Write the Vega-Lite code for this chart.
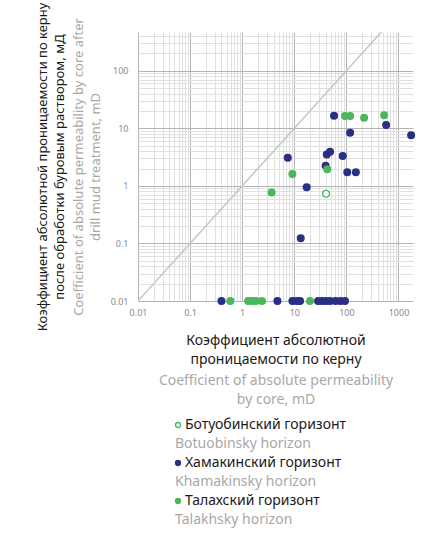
{
  "$schema": "https://vega.github.io/schema/vega-lite/v6.json",
  "width": 275,
  "height": 269,
  "autosize": {"type": "none"},
  "padding": {"left": 138, "top": 32, "right": 15, "bottom": 233},
  "background": "white",
  "config": {"font": "Noto Sans", "view": {"stroke": null}},
  "resolve": {"axis": {"x": "independent", "y": "independent"}},
  "layer": [
    {
      "data": {"values": [{"k_core": 0.01, "k_after": 0.01}, {"k_core": 470, "k_after": 470}]},
      "mark": {"type": "line", "color": "#bccdbc", "strokeWidth": 1.5, "clip": true},
      "encoding": {
        "x": {
          "field": "k_core", "type": "quantitative",
          "scale": {"type": "log", "domain": [0.01, 1900], "nice": false},
          "axis": {
            "orient": "bottom",
            "values": [0.01,0.02,0.03,0.04,0.05,0.06,0.07,0.08,0.09,0.1,0.2,0.3,0.4,0.5,0.6,0.7,0.8,0.9,1,2,3,4,5,6,7,8,9,10,20,30,40,50,60,70,80,90,100,200,300,400,500,600,700,800,900,1000],
            "labelExpr": "indexof([0.01,0.1,1,10,100,1000], datum.value) >= 0 ? '' + datum.value : ''",
            "grid": true,
            "gridColor": {"condition": {"test": "indexof([0.01,0.1,1,10,100,1000], datum.value) >= 0", "value": "#b4b4b4"}, "value": "#e0e0e0"},
            "ticks": false, "domain": false,
            "labelFontSize": 9, "labelColor": "#8a8a8a", "labelPadding": 7,
            "labelOverlap": false, "labelFlush": false,
            "title": ["Коэффициент абсолютной", "проницаемости по керну"],
            "titleColor": "#1a1a1a", "titleFontSize": 14, "titleFontWeight": "normal", "titleLineHeight": 19,
            "titlePadding": 16
          }
        },
        "y": {
          "field": "k_after", "type": "quantitative",
          "scale": {"type": "log", "domain": [0.01, 470], "nice": false},
          "axis": {
            "orient": "left",
            "values": [0.01,0.02,0.03,0.04,0.05,0.06,0.07,0.08,0.09,0.1,0.2,0.3,0.4,0.5,0.6,0.7,0.8,0.9,1,2,3,4,5,6,7,8,9,10,20,30,40,50,60,70,80,90,100,200,300,400],
            "grid": true,
            "gridColor": {"condition": {"test": "indexof([0.01,0.1,1,10,100,1000], datum.value) >= 0", "value": "#b4b4b4"}, "value": "#e0e0e0"},
            "title": ["Коэффициент абсолютной проницаемости по керну", "после обработки буровым раствором, мД"],
            "titleColor": "#1a1a1a", "titleFontSize": 13, "titleFontWeight": "normal", "titleLineHeight": 17,
            "titlePadding": 72,
            "labels": false, "ticks": false, "domain": false
          }
        }
      }
    },
    {
      "data": {"values": [
        {"k_core": 58, "k_after": 16.5, "horizon": "Хамакинский горизонт"},
        {"k_core": 580, "k_after": 11.4, "horizon": "Хамакинский горизонт"},
        {"k_core": 118, "k_after": 8.4, "horizon": "Хамакинский горизонт"},
        {"k_core": 1750, "k_after": 7.6, "horizon": "Хамакинский горизонт"},
        {"k_core": 7.5, "k_after": 3.08, "horizon": "Хамакинский горизонт"},
        {"k_core": 42, "k_after": 3.52, "horizon": "Хамакинский горизонт"},
        {"k_core": 48.6, "k_after": 3.9, "horizon": "Хамакинский горизонт"},
        {"k_core": 85, "k_after": 3.3, "horizon": "Хамакинский горизонт"},
        {"k_core": 40, "k_after": 2.23, "horizon": "Хамакинский горизонт"},
        {"k_core": 104, "k_after": 1.72, "horizon": "Хамакинский горизонт"},
        {"k_core": 152, "k_after": 1.72, "horizon": "Хамакинский горизонт"},
        {"k_core": 17.3, "k_after": 0.95, "horizon": "Хамакинский горизонт"},
        {"k_core": 13.3, "k_after": 0.123, "horizon": "Хамакинский горизонт"},
        {"k_core": 0.4, "k_after": 0.01, "horizon": "Хамакинский горизонт"},
        {"k_core": 4.75, "k_after": 0.01, "horizon": "Хамакинский горизонт"},
        {"k_core": 9.2, "k_after": 0.01, "horizon": "Хамакинский горизонт"},
        {"k_core": 11.1, "k_after": 0.01, "horizon": "Хамакинский горизонт"},
        {"k_core": 12.9, "k_after": 0.01, "horizon": "Хамакинский горизонт"},
        {"k_core": 28.6, "k_after": 0.01, "horizon": "Хамакинский горизонт"},
        {"k_core": 34, "k_after": 0.01, "horizon": "Хамакинский горизонт"},
        {"k_core": 40.7, "k_after": 0.01, "horizon": "Хамакинский горизонт"},
        {"k_core": 48.6, "k_after": 0.01, "horizon": "Хамакинский горизонт"},
        {"k_core": 62, "k_after": 0.01, "horizon": "Хамакинский горизонт"},
        {"k_core": 77, "k_after": 0.01, "horizon": "Хамакинский горизонт"},
        {"k_core": 94, "k_after": 0.01, "horizon": "Хамакинский горизонт"},
        {"k_core": 94, "k_after": 16.3, "horizon": "Талахский горизонт"},
        {"k_core": 118, "k_after": 16.3, "horizon": "Талахский горизонт"},
        {"k_core": 219, "k_after": 15.2, "horizon": "Талахский горизонт"},
        {"k_core": 531, "k_after": 16.9, "horizon": "Талахский горизонт"},
        {"k_core": 43, "k_after": 1.94, "horizon": "Талахский горизонт"},
        {"k_core": 9.2, "k_after": 1.6, "horizon": "Талахский горизонт"},
        {"k_core": 3.67, "k_after": 0.77, "horizon": "Талахский горизонт"},
        {"k_core": 0.59, "k_after": 0.01, "horizon": "Талахский горизонт"},
        {"k_core": 1.3, "k_after": 0.01, "horizon": "Талахский горизонт"},
        {"k_core": 1.56, "k_after": 0.01, "horizon": "Талахский горизонт"},
        {"k_core": 1.83, "k_after": 0.01, "horizon": "Талахский горизонт"},
        {"k_core": 2.4, "k_after": 0.01, "horizon": "Талахский горизонт"},
        {"k_core": 20, "k_after": 0.01, "horizon": "Талахский горизонт"},
        {"k_core": 40.7, "k_after": 0.73, "horizon": "Ботуобинский горизонт"}
      ]},
      "mark": {"type": "point", "filled": true, "size": 45, "strokeWidth": 1.3, "opacity": 1},
      "encoding": {
        "x": {
          "field": "k_core", "type": "quantitative",
          "axis": {
            "orient": "bottom",
            "labels": false, "ticks": false, "domain": false, "grid": false,
            "title": ["Coefficient of absolute permeability", "by core, mD"],
            "titleColor": "#a8a8a8", "titleFontSize": 14, "titleFontWeight": "normal", "titleLineHeight": 19,
            "titlePadding": 72
          }
        },
        "y": {
          "field": "k_after", "type": "quantitative",
          "axis": {
            "orient": "left",
            "values": [0.01,0.1,1,10,100],
            "labelExpr": "'' + datum.value",
            "grid": false, "ticks": false, "domain": false,
            "labelFontSize": 9, "labelColor": "#8a8a8a", "labelPadding": 10,
            "labelOverlap": false, "labelFlush": false,
            "title": ["Coefficient of absolute permeability by core after", "drill mud treatment, mD"],
            "titleColor": "#a8a8a8", "titleFontSize": 13, "titleFontWeight": "normal", "titleLineHeight": 17,
            "titlePadding": 8
          }
        },
        "fill": {
          "field": "horizon", "type": "nominal",
          "scale": {
            "domain": ["Ботуобинский горизонт", "Botuobinsky horizon", "Хамакинский горизонт", "Khamakinsky horizon", "Талахский горизонт", "Talakhsky horizon"],
            "range": ["#ffffff", "transparent", "#2a2f85", "transparent", "#4cb65c", "transparent"]
          },
          "legend": {
            "title": null, "orient": "none", "legendX": 33, "legendY": 386,
            "symbolType": "circle", "symbolSize": 25, "symbolStrokeWidth": 1.3,
            "labelFontSize": 14, "labelLimit": 400, "rowPadding": 5, "padding": 0,
            "labelColor": {"expr": "indexof(datum.label, 'horizon') >= 0 ? '#a8a8a8' : '#1a1a1a'"},
            "labelOffset": {"expr": "indexof(datum.label, 'horizon') >= 0 ? -10 : 0"}
          }
        },
        "stroke": {
          "field": "horizon", "type": "nominal",
          "scale": {
            "domain": ["Ботуобинский горизонт", "Botuobinsky horizon", "Хамакинский горизонт", "Khamakinsky horizon", "Талахский горизонт", "Talakhsky horizon"],
            "range": ["#4cb65c", "transparent", "#2a2f85", "transparent", "#4cb65c", "transparent"]
          },
          "legend": {
            "title": null, "orient": "none", "legendX": 33, "legendY": 386,
            "symbolType": "circle", "symbolSize": 25, "symbolStrokeWidth": 1.3,
            "labelFontSize": 14, "labelLimit": 400, "rowPadding": 5, "padding": 0,
            "labelColor": {"expr": "indexof(datum.label, 'horizon') >= 0 ? '#a8a8a8' : '#1a1a1a'"},
            "labelOffset": {"expr": "indexof(datum.label, 'horizon') >= 0 ? -10 : 0"}
          }
        }
      }
    }
  ]
}
